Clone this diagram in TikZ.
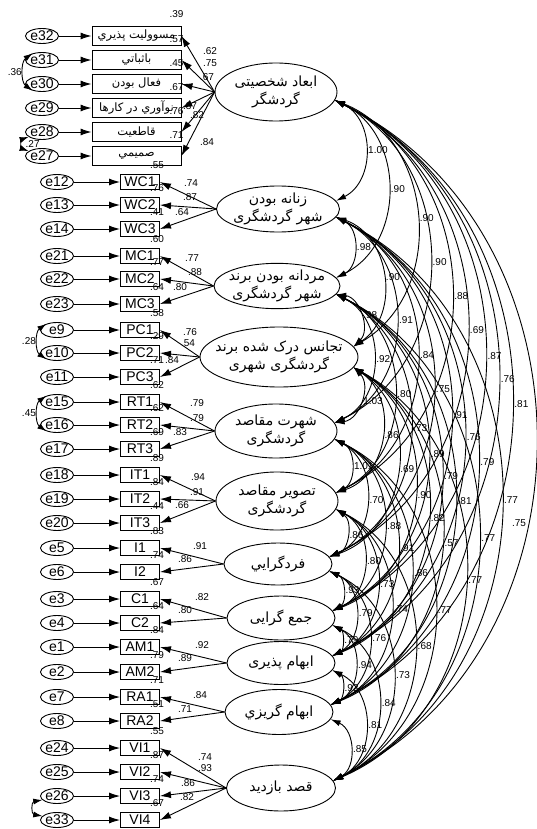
\documentclass[tikz,border=0pt]{standalone}
\usepackage{fontspec}
\setmainfont{Liberation Sans}
\newfontfamily\farsi[Script=Arabic]{DejaVu Sans}
\TeXXeTstate=1
\usetikzlibrary{arrows.meta,shapes.geometric,positioning}
\newcommand{\fa}[1]{{\farsi\beginR #1\endR}}
\newcommand{\fac}[1]{\makebox[0pt]{\fa{#1}}}

\begin{document}
\begin{tikzpicture}[x=1pt, y=-1pt, line width=0.9pt,
	err/.style={draw, ellipse, inner sep=0pt, minimum width=33pt, minimum height=15pt, font=\fontsize{14}{14}\selectfont},
	obs/.style={draw, rectangle, inner sep=0pt, minimum width=39pt, minimum height=15pt, font=\fontsize{14}{14}\selectfont},
	trait/.style={draw, rectangle, inner sep=0pt, minimum width=89pt, minimum height=19pt, font=\fontsize{11.5}{12}\selectfont},
	lat/.style={draw, ellipse, inner sep=0pt, align=center, font=\fontsize{14}{18}\selectfont},
	val/.style={inner sep=0.5pt, font=\fontsize{10}{10}\selectfont},
	sq/.style={val, above=5pt, xshift=-3pt},
	regr/.style={-{Latex[length=11pt,width=7pt]}},
	cov/.style={{Latex[length=10pt,width=6pt]}-{Latex[length=10pt,width=6pt]}, bend left=64, looseness=1.12},
	ecov/.style={{Latex[length=9pt,width=6pt]}-{Latex[length=9pt,width=6pt]}}]
	\useasboundingbox (0,0) rectangle (536,829);

	% latent factors
	\node[lat, minimum width=122pt, minimum height=58pt] (f1) at (276,92) {\fac{ابعاد شخصیتی}\\\fac{گردشگر}};
	\node[lat, minimum width=123pt, minimum height=46pt] (f2) at (278,209) {\fac{زنانه بودن}\\\fac{شهر گردشگری}};
	\node[lat, minimum width=126pt, minimum height=44pt] (f3) at (277,286) {\fac{مردانه بودن برند}\\\fac{شهر گردشگری}};
	\node[lat, minimum width=158pt, minimum height=60pt] (f4) at (279,357) {\fac{تجانس درک شده برند}\\\fac{گردشگری شهری}};
	\node[lat, minimum width=122pt, minimum height=54pt] (f5) at (276,431) {\fac{شهرت مقاصد}\\\fac{گردشگری}};
	\node[lat, minimum width=122pt, minimum height=58pt] (f6) at (277,501) {\fac{تصویر مقاصد}\\\fac{گردشگری}};
	\node[lat, minimum width=108pt, minimum height=42pt] (f7) at (278,564) {\fac{فردگرايي}};
	\node[lat, minimum width=108pt, minimum height=44pt] (f8) at (281,618) {\fac{جمع گرایی}};
	\node[lat, minimum width=108pt, minimum height=43pt] (f9) at (281,663) {\fac{ابهام پذیری}};
	\node[lat, minimum width=108pt, minimum height=45pt] (f10) at (279,712) {\fac{ابهام گريزي}};
	\node[lat, minimum width=109pt, minimum height=46pt] (f11) at (281,788) {\fac{قصد بازدید}};

	% personality items
	\foreach \n/\e/\y/\t in {1/32/36/مسووليت پذيري, 2/31/60/باثباتي, 3/30/84/فعال بودن, 4/29/108/نوآوري در كارها, 5/28/132/قاطعيت, 6/27/156/صميمي}
	{
		\node[err] (e\e) at (42,\y) {e\e};
		\node[trait] (p\n) at (136.5,\y) {\fa{\t}};
		\draw[regr] (e\e) -- (p\n);
		\draw[regr] (f1.west) -- (p\n.east);
	}

	% other items
	\foreach \b/\e/\y/\f in {WC1/12/182/2, WC2/13/205/2, WC3/14/229/2, MC1/21/256/3, MC2/22/279/3, MC3/23/304/3, PC1/9/330/4, PC2/10/353/4, PC3/11/377/4, RT1/15/402/5, RT2/16/425/5, RT3/17/449/5, IT1/18/475/6, IT2/19/499/6, IT3/20/523/6, I1/5/548/7, I2/6/572/7, C1/3/599/8, C2/4/623/8, AM1/1/647/9, AM2/2/672/9, RA1/7/697/10, RA2/8/721/10, VI1/24/748/11, VI2/25/772/11, VI3/26/796/11, VI4/33/820/11}
	{
		\node[err] (e\e) at (57,\y) {e\e};
		\node[obs] (\b) at (140,\y) {\b};
		\draw[regr] (e\e) -- (\b);
		\draw[regr] (f\f.west) -- (\b.east);
	}

	% squared multiple correlations
	\foreach \b/\v in {p1/.39, p2/.57, p3/.45, p4/.67, p5/.76, p6/.71}
		\node[sq, above=7pt, xshift=-2pt] (r\b) at (\b.north east) {\v};
	\foreach \b/\v in {WC1/.55, WC2/.76, WC3/.41, MC1/.60, MC2/.77, MC3/.64, PC1/.58, PC2/.29, PC3/.71, RT1/.62, RT2/.62, RT3/.69, IT1/.89, IT2/.84, IT3/.44, I1/.83, I2/.74, C1/.67, C2/.64, AM1/.84, AM2/.79, RA1/.71, RA2/.51, VI1/.55, VI2/.87, VI3/.74, VI4/.67}
		\node[sq] (r\b) at (\b.north east) {\v};

	% loadings
	\foreach \x/\y/\v [count=\k] in {210/51/.62, 210/63/.75, 207/77/.67, 190/106/.87, 197/115/.82, 207/142/.84,
		191/183/.74, 190/197/.87, 182/212/.64, 192/258/.77, 195/272/.88, 180/287/.80,
		190/332/.76, 188/343/.54, 172/360/.84, 197/403/.79, 197/418/.79, 180/432/.83,
		198/477/.94, 197/492/.91, 182/505/.66, 200/546/.91, 185/559/.86, 202/597/.82, 185/610/.80,
		202/645/.92, 185/658/.89, 200/695/.84, 185/709/.71, 205/757/.74, 205/768/.93, 188/783/.86, 187/797/.82}
		\node[val] (ld\k) at (\x,\y) {\v};

	% error covariances
	\draw[ecov] (e31.145) to[bend right=55] node[val, left=1pt] (c1) {.36} (e30.215);
	\draw[ecov] (e28.200) to[bend right=70, looseness=1.5] node[val, right=2pt] (c2) {.27} (e27.160);
	\draw[ecov] (e9.150) to[bend right=55] node[val, left=1pt] (c3) {.28} (e10.210);
	\draw[ecov] (e15.150) to[bend right=55] node[val, left=1pt] (c4) {.45} (e16.210);
	\draw[ecov] (e26.195) to[bend right=80, looseness=1.8] (e33.165);

	% factor correlations
	\foreach \i/\j/\v [count=\k] in {1/2/1.00, 1/3/.90, 1/4/.90, 1/5/.90, 1/6/.88, 1/7/.69, 1/8/.87, 1/9/.76, 1/10/.81,
		2/3/.98, 2/4/.90, 2/5/.91, 2/6/.84, 2/7/.75, 2/8/.91, 2/9/.76, 2/10/.79, 2/11/.77,
		3/4/.98, 3/5/.92, 3/6/.80, 3/7/.73, 3/8/.89, 3/9/.79, 3/10/.81, 3/11/.77,
		4/5/1.03, 4/6/.86, 4/7/.69, 4/8/.90, 4/9/.82, 4/10/.57, 4/11/.77,
		5/6/1.01, 5/7/.70, 5/8/.88, 5/9/.91, 5/10/.86, 5/11/.77,
		6/7/.86, 6/8/.80, 6/9/.73, 6/10/.74, 6/11/.68,
		7/8/.93, 7/9/.79, 7/10/.76, 7/11/.73,
		8/9/.79, 8/10/.94, 8/11/.84,
		9/10/.92, 9/11/.81,
		10/11/.85}
		\draw[cov] (f\i.-8) to node[val, pos=0.5, anchor=west, xshift=2pt] (cr\k) {\v} (f\j.8);
	\draw[cov] (f1.-8) to node[val, pos=0.6, anchor=east] (cr55) {.75} (f11.8);
\end{tikzpicture}
\end{document}
